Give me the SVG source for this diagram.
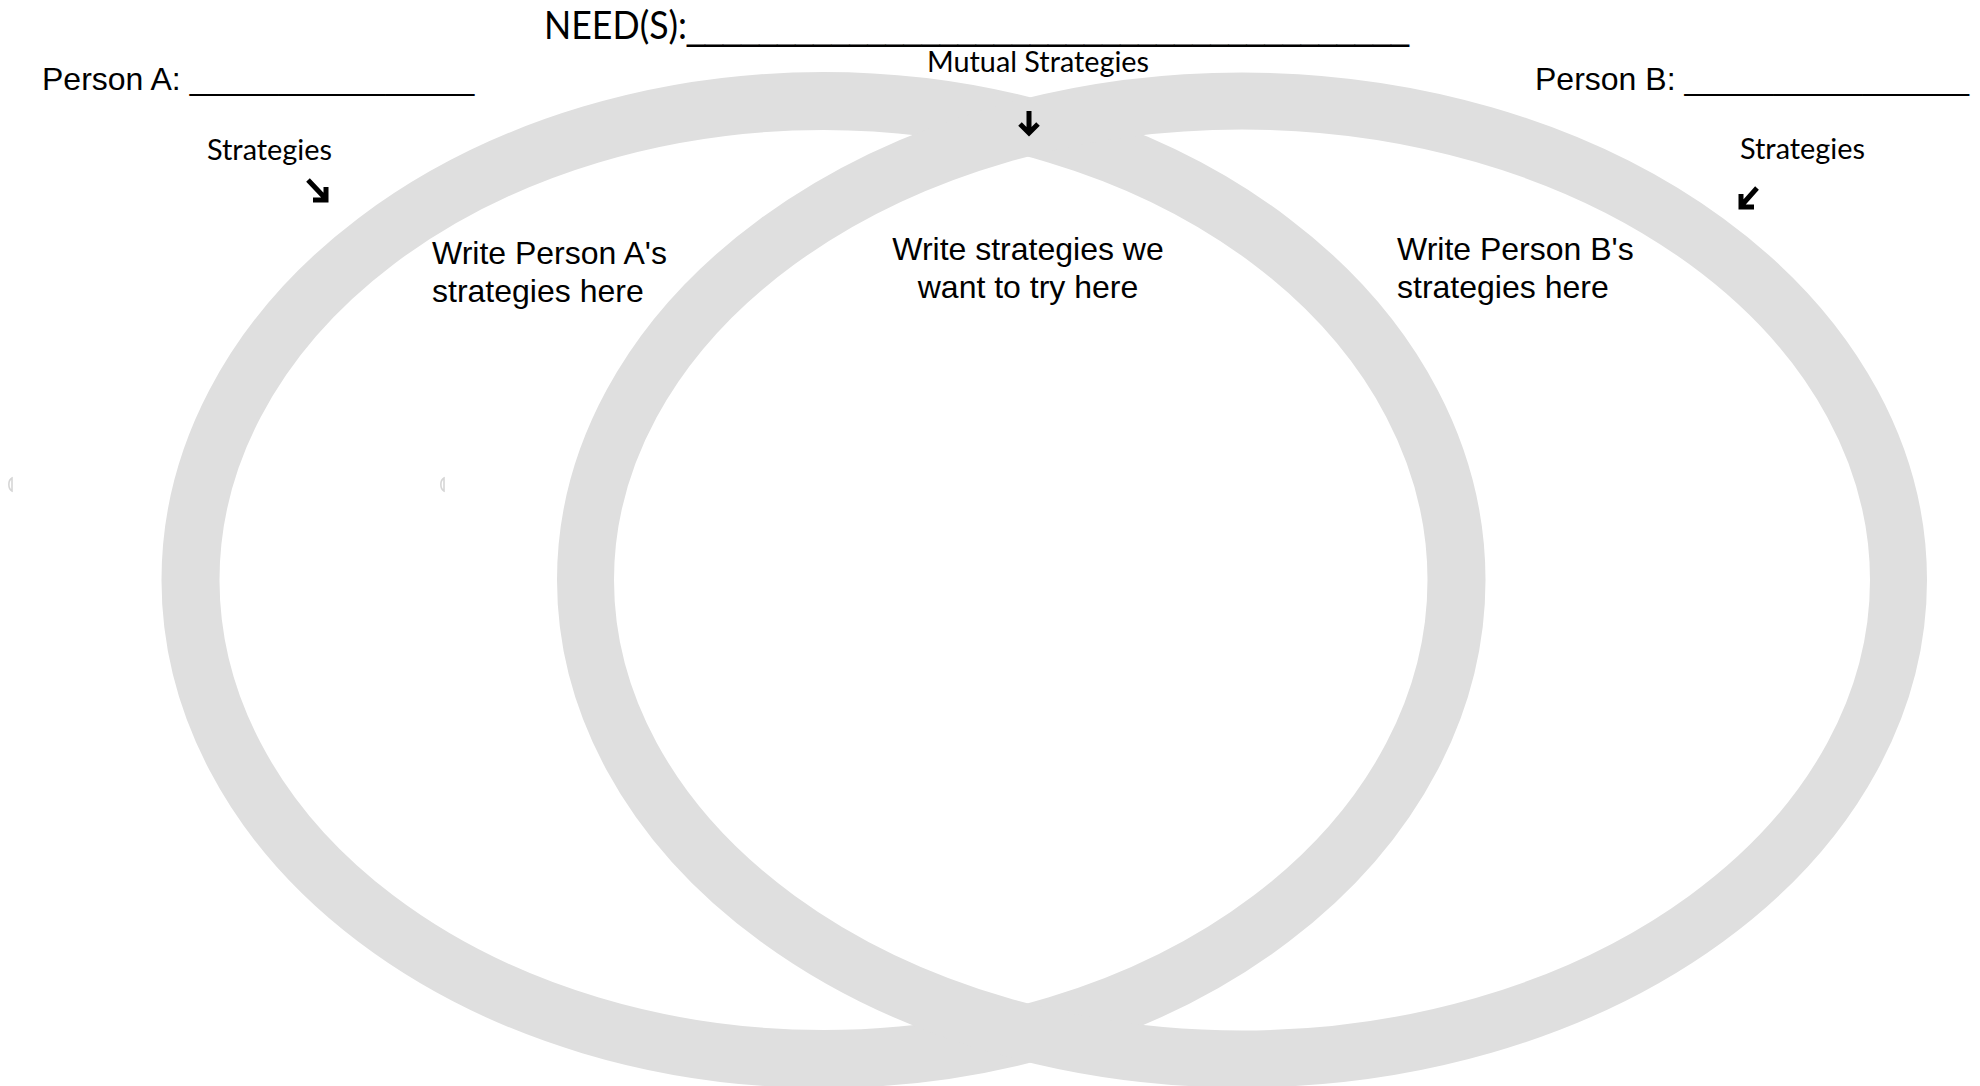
<svg xmlns="http://www.w3.org/2000/svg" width="1980" height="1086" viewBox="0 0 1980 1086">
  <style>
    .ring { fill: none; stroke: #dfdfdf; }
    .label { font-family: "Liberation Sans", Arial, sans-serif; font-size: 32px; fill: #000; }
    .title { font-family: Lato, "Open Sans", sans-serif; fill: #000; }
    .rule { font-family: "Liberation Sans", Arial, sans-serif; }
    .arrow { fill: none; stroke: #000; stroke-width: 5; stroke-linecap: butt; stroke-linejoin: miter; }
    .tick { fill: none; stroke: #d6d6d6; stroke-width: 1.6; }
  </style>
  <rect width="1980" height="1086" fill="#fff"/>

  <!-- Person A circle -->
  <g id="circle-a">
    <ellipse class="ring" cx="823.5" cy="580" rx="633" ry="479" stroke-width="58"/>
  </g>

  <!-- Person B circle -->
  <g id="circle-b">
    <ellipse class="ring" cx="1242" cy="580" rx="656.5" ry="479" stroke-width="57"/>
  </g>

  <!-- Header -->
  <g id="need">
    <text class="title" x="544" y="39" font-size="38"><tspan textLength="143" lengthAdjust="spacingAndGlyphs">NEED(S):</tspan><tspan class="rule" textLength="722" lengthAdjust="spacingAndGlyphs">________________________________________</tspan></text>
  </g>
  <g id="person-a">
    <text class="label" x="42" y="90">Person A: ________________</text>
  </g>
  <g id="person-b">
    <text class="label" x="1535" y="90">Person B: ________________</text>
  </g>

  <!-- Section captions -->
  <g id="caption-a">
    <text class="title" x="207" y="160" font-size="28" textLength="125" lengthAdjust="spacingAndGlyphs">Strategies</text>
  </g>
  <g id="caption-mutual">
    <text class="title" x="927" y="72" font-size="28" textLength="222" lengthAdjust="spacingAndGlyphs">Mutual Strategies</text>
  </g>
  <g id="caption-b">
    <text class="title" x="1740" y="159" font-size="28" textLength="125" lengthAdjust="spacingAndGlyphs">Strategies</text>
  </g>

  <!-- Region prompts -->
  <g id="region-a">
    <text class="label" x="432" y="264">Write Person A's</text>
    <text class="label" x="432" y="302">strategies here</text>
  </g>
  <g id="region-mutual">
    <text class="label" x="1028" y="260" text-anchor="middle">Write strategies we</text>
    <text class="label" x="1028" y="298" text-anchor="middle">want to try here</text>
  </g>
  <g id="region-b">
    <text class="label" x="1397" y="260">Write Person B's</text>
    <text class="label" x="1397" y="298">strategies here</text>
  </g>

  <!-- Pointer arrows -->
  <g id="connectors">
    <path class="arrow" d="M308 180 L326 199 M326 187 L326 200 L313 200"/>
    <path class="arrow" d="M1029 111 L1029 133 M1020 124 L1029 133 L1038 124"/>
    <path class="arrow" d="M1757 188 L1741 206 M1741 194 L1741 207 L1754 207"/>
  </g>

  <!-- Faint margin marks -->
  <g id="marks">
    <path class="tick" d="M12 478 A5 7 0 0 0 12 491 Z"/>
    <path class="tick" d="M444 478 A5 7 0 0 0 444 491 Z"/>
  </g>
</svg>
